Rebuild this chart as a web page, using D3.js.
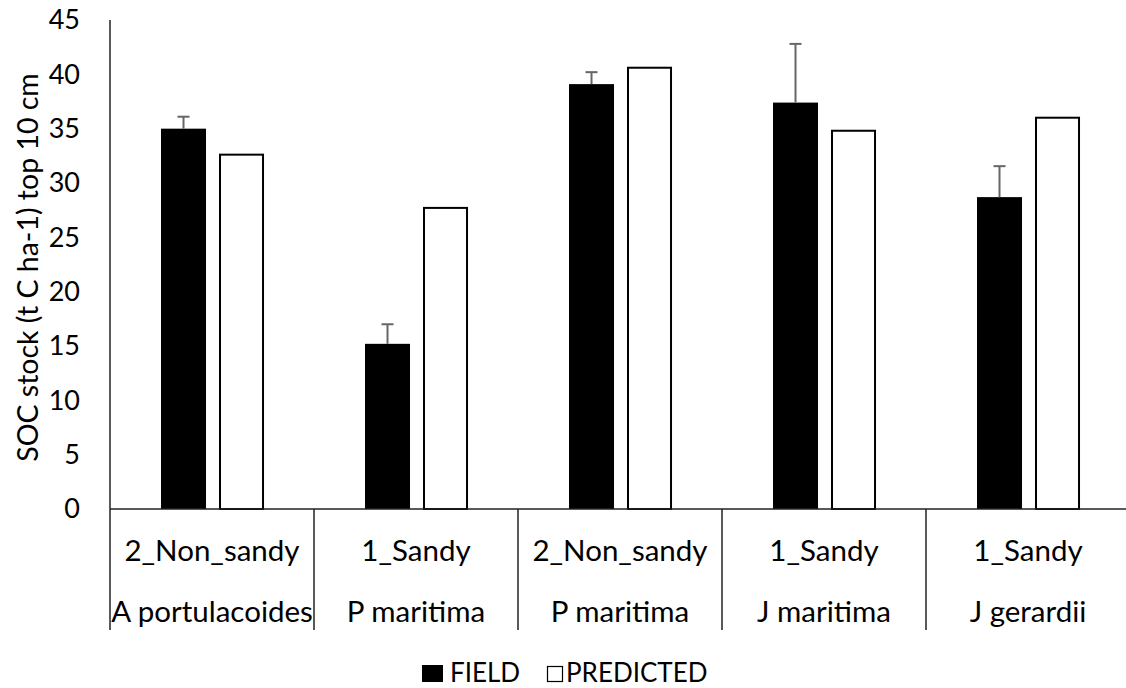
<!DOCTYPE html>
<html>
<head>
<meta charset="utf-8">
<script src="https://cdn.jsdelivr.net/npm/d3@7"></script>
<style>
  html, body { margin: 0; padding: 0; background: #fff; }
  svg text { font-family: Lato, "Open Sans", sans-serif; fill: #000; }
</style>
</head>
<body>
<svg id="chart" width="1126" height="688"></svg>
<script>
// Soil organic carbon stocks: field measurements vs model predictions
const soilTypes = ["2_Non_sandy", "1_Sandy", "2_Non_sandy", "1_Sandy", "1_Sandy"];
const species   = ["A portulacoides", "P maritima", "P maritima", "J maritima", "J gerardii"];
const series    = ["FIELD", "PREDICTED"];
const fieldValues     = [35.0, 15.2, 39.1, 37.4, 28.7];
const fieldErrors     = [1.1, 1.8, 1.1, 5.4, 2.85];
const predictedValues = [32.7, 27.8, 40.7, 34.9, 36.1];
const yTicks = [0, 5, 10, 15, 20, 25, 30, 35, 40, 45];
const yTitle = "SOC stock (t C ha-1) top 10 cm";

const rows = soilTypes.map((s, i) => ({
  key: i, soil: s, species: species[i],
  FIELD: fieldValues[i], PREDICTED: predictedValues[i], err: fieldErrors[i]
}));

const svg = d3.select("#chart");
const plotLeft = 110, plotTop = 20, plotBottom = 509, axisBottom = 630;

const x0 = d3.scaleBand()
  .domain(rows.map(d => d.key))
  .range([plotLeft, plotLeft + 204 * rows.length])
  .paddingInner(0).paddingOuter(0);
const bw = x0.bandwidth();

const x1 = d3.scaleBand()
  .domain(series)
  .range([bw * 0.25, bw * 0.755])
  .paddingInner(0.224);

const y = d3.scaleLinear().domain([0, 45]).range([plotBottom, plotTop]);

// Y tick labels (no tick marks)
svg.append("g")
  .selectAll("text")
  .data(yTicks)
  .join("text")
  .attr("x", 80)
  .attr("y", d => y(d))
  .attr("dy", "0.35em")
  .attr("text-anchor", "end")
  .attr("font-size", 27)
  .text(d => d);

// Y axis title
svg.append("text")
  .attr("transform", `translate(38,${(40 + 495) / 2}) rotate(-90)`)
  .attr("text-anchor", "middle")
  .attr("font-size", 28.5)
  .text(yTitle);

// Bars
const groups = svg.append("g")
  .selectAll("g")
  .data(rows)
  .join("g")
  .attr("transform", d => `translate(${x0(d.key)},0)`);

groups.append("rect")
  .attr("x", x1("FIELD"))
  .attr("width", x1.bandwidth())
  .attr("y", d => y(d.FIELD))
  .attr("height", d => y(0) - y(d.FIELD))
  .attr("fill", "#000");

groups.append("rect")
  .attr("x", x1("PREDICTED") + 1)
  .attr("width", x1.bandwidth() - 2)
  .attr("y", d => y(d.PREDICTED) + 1)
  .attr("height", d => y(0) - y(d.PREDICTED) - 1)
  .attr("fill", "#fff")
  .attr("stroke", "#000")
  .attr("stroke-width", 2);

// Error bars (positive direction only)
const ex = x1("FIELD") + x1.bandwidth() / 2;
groups.append("line")
  .attr("x1", ex).attr("x2", ex)
  .attr("y1", d => y(d.FIELD))
  .attr("y2", d => y(d.FIELD + d.err))
  .attr("stroke", "#666")
  .attr("stroke-width", 2);
groups.append("line")
  .attr("x1", ex - 6).attr("x2", ex + 6)
  .attr("y1", d => y(d.FIELD + d.err))
  .attr("y2", d => y(d.FIELD + d.err))
  .attr("stroke", "#666")
  .attr("stroke-width", 2);

// Axis lines
const axisColor = "#222";
svg.append("line")
  .attr("x1", plotLeft).attr("x2", plotLeft)
  .attr("y1", plotTop).attr("y2", axisBottom)
  .attr("stroke", axisColor).attr("stroke-width", 1.5);
svg.append("line")
  .attr("x1", plotLeft).attr("x2", x0.range()[1])
  .attr("y1", y(0)).attr("y2", y(0))
  .attr("stroke", axisColor).attr("stroke-width", 1.5);

// Category separators
svg.append("g")
  .selectAll("line")
  .data(rows.slice(1))
  .join("line")
  .attr("x1", d => x0(d.key)).attr("x2", d => x0(d.key))
  .attr("y1", y(0)).attr("y2", axisBottom)
  .attr("stroke", axisColor).attr("stroke-width", 1.5);

// Two-level category labels
const labels = svg.append("g")
  .selectAll("g")
  .data(rows)
  .join("g")
  .attr("transform", d => `translate(${x0(d.key) + bw / 2},0)`);
labels.append("text")
  .attr("y", 551).attr("dy", "0.35em")
  .attr("text-anchor", "middle")
  .attr("font-size", 29.5)
  .text(d => d.soil);
labels.append("text")
  .attr("y", 612).attr("dy", "0.35em")
  .attr("text-anchor", "middle")
  .attr("font-size", 29.5)
  .text(d => d.species);

// Legend
const legend = svg.append("g");
legend.append("rect")
  .attr("x", 422).attr("y", 665).attr("width", 21).attr("height", 17)
  .attr("fill", "#000");
legend.append("text")
  .attr("x", 450).attr("y", 682)
  .attr("font-size", 26)
  .text(series[0]);
legend.append("rect")
  .attr("x", 547.5).attr("y", 666.5).attr("width", 15).attr("height", 15)
  .attr("fill", "#fff").attr("stroke", "#000").attr("stroke-width", 1.2);
legend.append("text")
  .attr("x", 566).attr("y", 682)
  .attr("font-size", 26)
  .text(series[1]);
</script>
</body>
</html>
